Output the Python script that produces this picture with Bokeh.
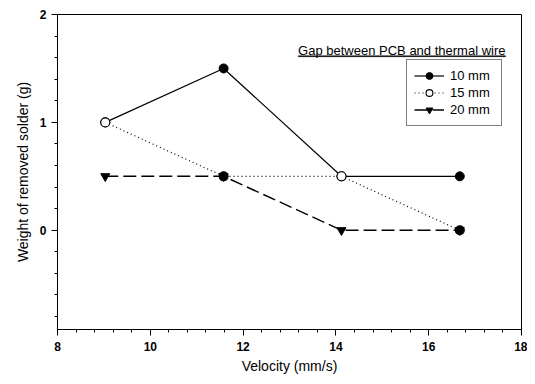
from bokeh.plotting import figure
from bokeh.models import (ColumnDataSource, Legend, LegendItem, Label, BoxAnnotation,
                          FixedTicker, Range1d)
from bokeh.embed import file_html
from bokeh.resources import INLINE

# ---- data ----
velocity = [9.03, 11.58, 14.12, 16.67]
gap_10mm = [1.0, 1.5, 0.5, 0.5]
gap_15mm = [1.0, 0.5, 0.5, 0.0]
gap_20mm = [0.5, 0.5, 0.0, 0.0]
labels = ["10 mm", "15 mm", "20 mm"]
x_ticks = [8, 10, 12, 14, 16, 18]
y_ticks = [0, 1, 2]
legend_title = "Gap between PCB and thermal wire"
# marker appearance per point as seen in the picture
fill_15mm = ["white", "black", "white", "black"]

FONT = "Liberation Sans"

p = figure(width=527, height=376, output_backend="svg", toolbar_location=None,
           x_range=Range1d(8, 18), y_range=Range1d(-0.92, 2),
           min_border_left=57, min_border_right=6, min_border_top=14, min_border_bottom=45)
p.background_fill_color = "white"
p.border_fill_color = "white"
p.outline_line_color = "black"
p.outline_line_width = 1
p.xgrid.visible = False
p.ygrid.visible = False

# axes
p.xaxis.ticker = FixedTicker(ticks=x_ticks, minor_ticks=[8 + 0.4 * i for i in range(26)])
p.yaxis.ticker = FixedTicker(ticks=y_ticks, minor_ticks=[-1 + 0.2 * i for i in range(16)])
for ax in (p.xaxis[0], p.yaxis[0]):
    ax.axis_line_color = "black"
    ax.major_tick_line_color = "black"
    ax.minor_tick_line_color = "black"
    ax.major_tick_in = 0
    ax.major_tick_out = 6
    ax.minor_tick_in = 0
    ax.minor_tick_out = 3
    ax.major_label_text_font = FONT
    ax.major_label_text_font_size = "12px"
    ax.major_label_text_font_style = "bold"
    ax.major_label_text_color = "black"
    ax.axis_label_text_font = FONT
    ax.axis_label_text_font_size = "14px"
    ax.axis_label_text_font_style = "normal"
    ax.axis_label_text_color = "black"
p.xaxis.axis_label = "Velocity (mm/s)"
p.yaxis.axis_label = "Weight of removed solder (g)"
p.xaxis.major_label_standoff = 6
p.xaxis.axis_label_standoff = 4
p.yaxis.major_label_standoff = 5
p.yaxis.axis_label_standoff = 6

src10 = ColumnDataSource(dict(x=velocity, y=gap_10mm))
src15 = ColumnDataSource(dict(x=velocity, y=gap_15mm, fill=fill_15mm))
src20 = ColumnDataSource(dict(x=velocity, y=gap_20mm))

l10 = p.line("x", "y", source=src10, line_color="black", line_width=1.2)
l15 = p.line("x", "y", source=src15, line_color="black", line_width=1.2, line_dash="1 3")
l20 = p.line("x", "y", source=src20, line_color="black", line_width=1.4, line_dash="13 5")

m10 = p.scatter("x", "y", source=src10, marker="circle", size=9,
                fill_color="black", line_color="black")
m20 = p.scatter("x", "y", source=src20, marker="inverted_triangle", size=9,
                fill_color="black", line_color="black")
m15 = p.scatter("x", "y", source=src15, marker="circle", size=9,
                fill_color="fill", line_color="black", line_width=1.1)

legend = Legend(items=[
    LegendItem(label=labels[0], renderers=[l10, m10], index=0),
    LegendItem(label=labels[1], renderers=[l15, m15], index=0),
    LegendItem(label=labels[2], renderers=[l20, m20], index=0),
], location=(349, 203), orientation="vertical")
legend.border_line_color = "black"
legend.border_line_width = 1
legend.background_fill_alpha = 1
legend.padding = 7
legend.spacing = 0
legend.margin = 0
legend.glyph_width = 30
legend.glyph_height = 17
legend.label_height = 17
legend.label_width = 44
legend.label_standoff = 6
legend.label_text_font = FONT
legend.label_text_font_size = "13px"
legend.label_text_color = "black"
p.add_layout(legend, "center")

title = Label(x=17.655, y=1.668, text=legend_title, text_align="right",
              text_baseline="middle", text_font=FONT, text_font_size="13px",
              text_color="black")
p.add_layout(title)
underline = BoxAnnotation(left=13.19, right=17.655, bottom=1.609, top=1.617,
                          fill_color="black", fill_alpha=1, line_color="black",
                          line_width=0.5, line_alpha=1)
p.add_layout(underline)

open("out.html", "w").write(file_html(p, INLINE))
